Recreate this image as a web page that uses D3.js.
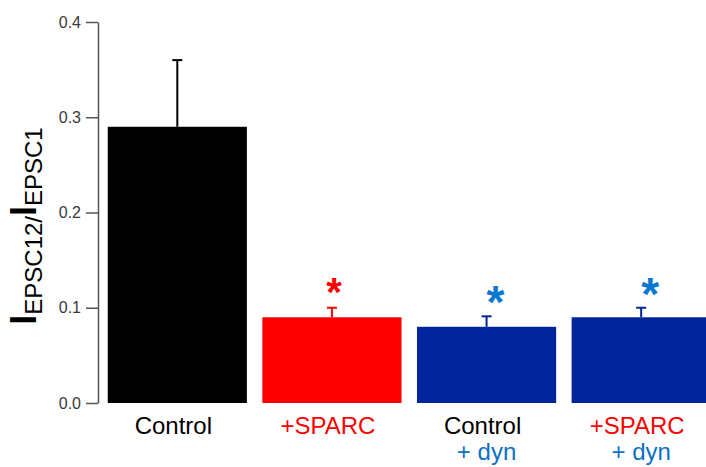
<!DOCTYPE html>
<html>
<head>
<meta charset="utf-8">
<script src="https://cdn.jsdelivr.net/npm/d3@7"></script>
<style>
  html, body { margin: 0; padding: 0; background: #fff; }
  svg { display: block; font-family: "Liberation Sans", Arial, sans-serif; }
</style>
</head>
<body>
<svg id="chart" width="706" height="467"></svg>
<script>
// ---- data ----
const categories = ["Control", "+SPARC", "Control + dyn", "+SPARC + dyn"];
const labelLine1 = ["Control", "+SPARC", "Control", "+SPARC"];
const labelLine2 = ["", "", "+ dyn", "+ dyn"];
const values = [0.29, 0.09, 0.08, 0.09];
const errUpper = [0.36, 0.10, 0.091, 0.10];
const significant = [false, true, true, true];
const yTicks = [0.0, 0.1, 0.2, 0.3, 0.4];
const yTickLabels = ["0.0", "0.1", "0.2", "0.3", "0.4"];

// ---- styles ----
const barColors = ["#000000", "#ff0000", "#00249a", "#00249a"];
const line1Colors = ["#000000", "#ff0000", "#000000", "#ff0000"];
const line2Color = "#0a70c4";
const starColors = [null, "#ff0000", "#0a78d0", "#0a78d0"];

const svg = d3.select("#chart");

const x = d3.scaleBand()
  .domain(categories)
  .range([100, 718.5])
  .paddingInner(0.1)
  .paddingOuter(0.05);

const y = d3.scaleLinear()
  .domain([0, 0.4])
  .range([403, 22]);

// axis
const axis = d3.axisLeft(y)
  .tickValues(yTicks)
  .tickFormat((d, i) => yTickLabels[i])
  .tickSize(12)
  .tickSizeOuter(0)
  .tickPadding(5);

const ax = svg.append("g")
  .attr("transform", "translate(98,0)")
  .call(axis);
ax.select(".domain").attr("stroke", "#555").attr("stroke-width", 1.5);
ax.selectAll(".tick line").attr("stroke", "#555").attr("stroke-width", 1.5);
ax.selectAll(".tick text")
  .attr("fill", "#3a3a3a")
  .style("font-size", "16px")
  .style("font-family", "'Liberation Sans', Arial, sans-serif");

// bars
svg.append("g").selectAll("rect")
  .data(categories)
  .join("rect")
  .attr("x", d => x(d))
  .attr("y", (d, i) => y(values[i]))
  .attr("width", x.bandwidth())
  .attr("height", (d, i) => y(0) - y(values[i]))
  .attr("fill", (d, i) => barColors[i]);

// error bars
const eg = svg.append("g");
categories.forEach((c, i) => {
  const cx = x(c) + x.bandwidth() / 2;
  eg.append("line")
    .attr("x1", cx).attr("x2", cx)
    .attr("y1", y(values[i])).attr("y2", y(errUpper[i]))
    .attr("stroke", barColors[i]).attr("stroke-width", 2);
  eg.append("line")
    .attr("x1", cx - 5).attr("x2", cx + 5)
    .attr("y1", y(errUpper[i])).attr("y2", y(errUpper[i]))
    .attr("stroke", barColors[i]).attr("stroke-width", 2);
});

// significance stars
categories.forEach((c, i) => {
  if (!significant[i]) return;
  const cx = x(c) + x.bandwidth() / 2;
  const fs = i === 1 ? 40 : 46;
  const gap = i === 1 ? 25 : 25;
  svg.append("text")
    .attr("x", cx + (i === 1 ? 2 : 9))
    .attr("y", y(errUpper[i]) - gap + 0.585 * fs)
    .attr("text-anchor", "middle")
    .attr("fill", starColors[i])
    .style("font-size", fs + "px")
    .style("font-weight", "bold")
    .text("*");
});

// category labels
const lg = svg.append("g");
categories.forEach((c, i) => {
  const cx = x(c) + x.bandwidth() / 2;
  lg.append("text")
    .attr("x", cx - 4)
    .attr("y", 434)
    .attr("text-anchor", "middle")
    .attr("fill", line1Colors[i])
    .style("font-size", "24px")
    .text(labelLine1[i]);
  if (labelLine2[i]) {
    lg.append("text")
      .attr("x", cx)
      .attr("y", 460)
      .attr("text-anchor", "middle")
      .attr("fill", line2Color)
      .style("font-size", "24px")
      .text(labelLine2[i]);
  }
});

// y-axis title: I_EPSC12 / I_EPSC1
const yt = svg.append("text")
  .attr("transform", "translate(36,226) rotate(-90)")
  .attr("text-anchor", "middle")
  .attr("fill", "#000");
yt.append("tspan").style("font-size", "36px").style("font-weight", "bold").text("I");
yt.append("tspan").style("font-size", "24px").attr("dy", 6).text("EPSC12/");
yt.append("tspan").style("font-size", "36px").style("font-weight", "bold").attr("dy", -6).text("I");
yt.append("tspan").style("font-size", "24px").attr("dy", 6).text("EPSC1");
</script>
</body>
</html>
